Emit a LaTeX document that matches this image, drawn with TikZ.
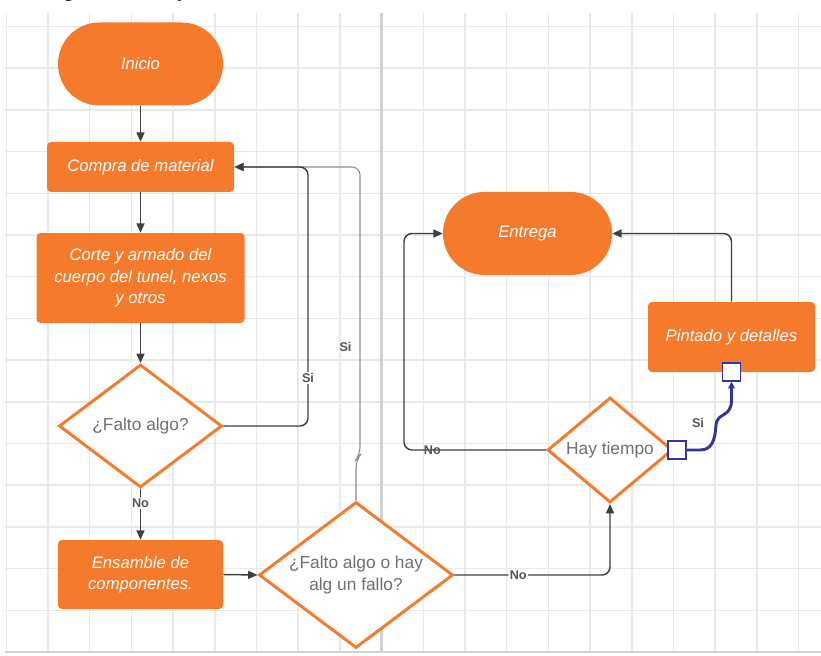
\documentclass[tikz,border=0pt]{standalone}
\usepackage{fontspec}
\setmainfont{Liberation Sans}
\newfontfamily\titlefont{Carlito}
\usetikzlibrary{shapes.geometric,arrows.meta,calc}
\definecolor{orng}{HTML}{F57A2B}
\definecolor{gridc}{HTML}{E9E9E9}
\definecolor{gridm}{HTML}{D2D2D2}
\definecolor{linec}{HTML}{3F3F3F}
\definecolor{linel}{HTML}{8C8C8C}
\definecolor{txtg}{HTML}{707070}
\definecolor{lblc}{HTML}{555555}
\definecolor{navy}{HTML}{34349C}
\begin{document}
\begin{tikzpicture}[x=0.75pt,y=-0.75pt,
  proc/.style={draw=none, fill=orng, rounded corners=3pt, text=white,
    font=\fontsize{12.5}{16}\selectfont\itshape, align=center, inner sep=0pt},
  term/.style={proc, rounded corners=31pt},
  dia/.style={diamond, draw=orng, line width=2.2pt, fill=white, inner sep=0pt},
  dtext/.style={text=txtg, font=\fontsize{13}{16}\selectfont, align=center, inner sep=0pt},
  conn/.style={draw=linec, line width=1.1pt, rounded corners=6pt,
    -{Triangle[length=7pt,width=6pt]}},
  lbl/.style={font=\bfseries\fontsize{9.5}{11}\selectfont, text=lblc, inner sep=1pt},
  port/.style={draw=navy, line width=1.1pt, fill=white, minimum size=13.5pt, inner sep=0pt}]

% canvas
\fill[white] (0,0) rectangle (821,656);
\useasboundingbox (0,0) rectangle (821,656);

% cropped title at the top edge (only its descenders are inside the picture)
\begin{scope}
  \clip (0,0) rectangle (821,12);
  \node[anchor=base west, inner sep=0pt, font=\titlefont\fontsize{17}{20}\selectfont] (title) at (33,-2) {Diagrama de flujo};
\end{scope}

% grid
\foreach \i in {0,...,19} \draw[gridc, line width=1.1pt] ({6.3+41.7*\i},13) -- ({6.3+41.7*\i},652);
\foreach \j in {0,...,14} \draw[gridc, line width=1.1pt] (5,{26.5+41.7*\j}) -- (821,{26.5+41.7*\j});
\draw[gridm, line width=1.8pt] (381.6,13) -- (381.6,652);
\draw[gridm, line width=1.8pt] (5,652) -- (821,652);

% nodes
\node[term, minimum width=123.75pt, minimum height=62.25pt] (inicio) at (140.5,64) {Inicio};
\node[proc, minimum width=140.25pt, minimum height=37.5pt] (compra) at (140.5,167) {Compra de material};
\node[proc, minimum width=156pt, minimum height=67.5pt] (corte) at (140.5,278) {Corte y armado del\\cuerpo del tunel, nexos\\y otros};
\node[dia, minimum width=122.25pt, minimum height=92.25pt] (falto) at (140.5,426) {};
\node[dtext] (faltot) at (falto) {¿Falto algo?};
\node[proc, minimum width=123.75pt, minimum height=51.75pt] (ensamble) at (140.5,574.5) {Ensamble de\\componentes.};
\node[dia, minimum width=145.5pt, minimum height=109.5pt] (d2) at (356,575) {};
\node[dtext] (d2t) at (d2) {¿Falto algo o hay\\alg un fallo?};
\node[dia, minimum width=93.75pt, minimum height=78.75pt] (hay) at (610,450) {};
\node[dtext] (hayt) at (hay) {Hay tiempo};
\node[proc, minimum width=125.25pt, minimum height=52.5pt] (pintado) at (731.5,337) {Pintado y detalles};
\node[term, minimum width=126.75pt, minimum height=62.25pt] (entrega) at (527.5,233.5) {Entrega};

\coordinate (c1) at (308,167);
\coordinate (c2) at (360,167);
\coordinate (cn) at (404,450);

% connectors
\draw[conn] (inicio.south) -- (compra.north);
\draw[conn] (compra.south) -- (corte.north);
\draw[conn] (corte.south) -- (falto.north);
\draw[conn] (falto.south) -- node[lbl, fill=white, pos=0.28] (lno1) {No} (ensamble.north);
\draw[conn] (ensamble.east) -- (d2.west);
\draw[conn] (d2.east) -- node[lbl, fill=white, pos=0.41] (lno2) {No} (hay.south |- d2.east) -- (hay.south);
\draw[conn] (hay.west) -- node[lbl, pos=0.8] (lno3) {No} (cn) |- (entrega.west);
\draw[conn] (pintado.north) |- (entrega.east);

% outer loop (lighter)
\draw[draw=linel, line width=0.8pt, rounded corners=6pt, -{Triangle[length=7pt,width=6pt]}]
  (d2.north) -- (356,460) -- (360,455) -- node[lbl, pos=0.375, left=5pt] (lsi2) {Si} (c2) -- (compra.east);
% inner loop
\draw[conn] (falto.east) -| node[lbl, fill=white, pos=0.593] (lsi1) {Si} (c1) -- (compra.east);

% ports and blue connector
\node[port] (sq1) at (677,450) {};
\node[port] (sq2) at (731.5,372) {};
\draw[navy, line width=2.2pt, -{Triangle[length=5pt,width=5pt]}]
  (sq1.east) -- (700,450) .. controls (712,450) and (715,440) .. (716,425)
  .. controls (717,412) and (731.5,418) .. (731.5,400) -- (sq2.south);
\node[lbl] (lsi3) at (698,423) {Si};
\end{tikzpicture}
\end{document}
